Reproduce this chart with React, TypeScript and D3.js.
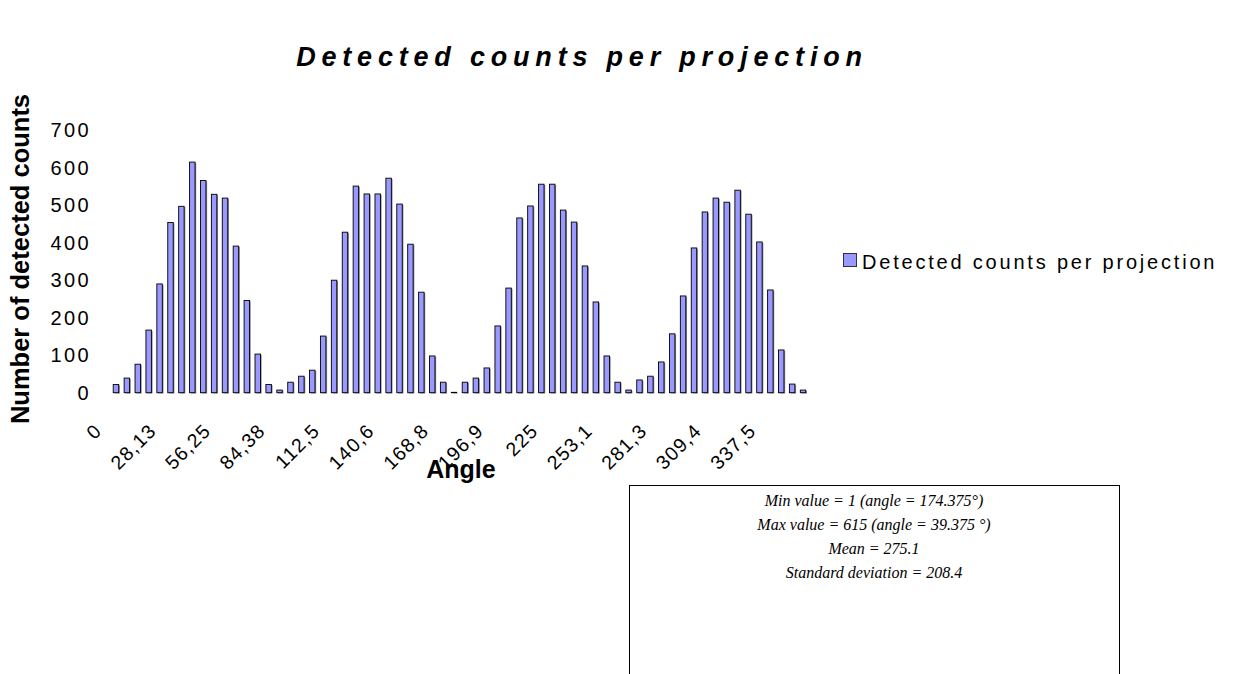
import { useEffect, useRef } from "react";
import * as d3 from "d3";

// counts per projection, 64 projections at 5.625° steps
const COUNTS = [
  22, 39, 76, 167, 290, 454, 497, 615, 566, 529, 519, 391, 246, 103, 22, 7,
  28, 44, 60, 151, 300, 428, 551, 530, 530, 572, 503, 396, 268, 98, 28, 1,
  28, 39, 66, 178, 279, 466, 498, 556, 556, 487, 455, 338, 242, 98, 28, 7,
  34, 44, 82, 157, 258, 386, 482, 519, 508, 540, 476, 402, 274, 114, 23, 7,
];
// shown under every 5th projection
const TICK_LABELS = [
  "0", "28,13", "56,25", "84,38", "112,5", "140,6", "168,8",
  "196,9", "225", "253,1", "281,3", "309,4", "337,5",
];
const Y_TICKS = [0, 100, 200, 300, 400, 500, 600, 700];
const STATS = [
  "Min value = 1 (angle = 174.375°)",
  "Max value = 615 (angle = 39.375 °)",
  "Mean = 275.1",
  "Standard deviation = 208.4",
];

const W = 1253;
const H = 674;
const BAR_FILL = "#9999FF";

function buildChart(svgEl: SVGSVGElement) {
  const svg = d3.select(svgEl);
  svg.selectAll("*").remove();

  const x = d3.scaleBand<number>()
    .domain(COUNTS.map((_, i) => i))
    .range([110.5, 808.5])
    .paddingInner(0.5)
    .paddingOuter(0.25);

  const y = d3.scaleLinear().domain([0, 700]).range([392.7, 130.2]);

  // title
  svg.append("text")
    .attr("x", 582).attr("y", 66)
    .attr("text-anchor", "middle")
    .style("font-family", "Liberation Sans, Arial, sans-serif")
    .style("font-size", "27px")
    .style("font-weight", "bold")
    .style("font-style", "italic")
    .style("letter-spacing", "5.8px")
    .text("Detected counts per projection");

  // y axis labels (no axis line)
  svg.append("g")
    .selectAll("text")
    .data(Y_TICKS)
    .join("text")
    .attr("x", 91)
    .attr("y", d => y(d))
    .attr("dy", "0.36em")
    .attr("text-anchor", "end")
    .style("font-family", "Liberation Sans, Arial, sans-serif")
    .style("font-size", "20px")
    .style("letter-spacing", "2.4px")
    .text(d => d);

  svg.append("text")
    .attr("transform", `translate(29,${(92 + 426) / 2}) rotate(-90)`)
    .attr("text-anchor", "middle")
    .style("font-family", "Liberation Sans, Arial, sans-serif")
    .style("font-size", "25.5px")
    .style("font-weight", "bold")
    .text("Number of detected counts");

  // bars: gray drop edge then the bar itself
  const bars = svg.append("g");
  bars.selectAll("rect.shadow")
    .data(COUNTS)
    .join("rect")
    .attr("class", "shadow")
    .attr("x", (_, i) => (x(i) as number) + 1.2)
    .attr("y", d => y(d) + 0.8)
    .attr("width", x.bandwidth())
    .attr("height", d => Math.max(0, y(0) - y(d)))
    .attr("fill", "#8a8a8a");
  bars.selectAll("rect.bar")
    .data(COUNTS)
    .join("rect")
    .attr("class", "bar")
    .attr("x", (_, i) => x(i) as number)
    .attr("y", d => y(d))
    .attr("width", x.bandwidth())
    .attr("height", d => y(0) - y(d))
    .attr("fill", BAR_FILL)
    .attr("stroke", "#000")
    .attr("stroke-width", 0.9);

  // rotated x tick labels at every 5th projection
  svg.append("g")
    .selectAll("text")
    .data(TICK_LABELS)
    .join("text")
    .attr("transform", (_, k) => {
      const cx = (x(k * 5) as number) + x.bandwidth() / 2;
      return `translate(${cx - 13},432) rotate(-45)`;
    })
    .attr("text-anchor", "end")
    .style("font-family", "Liberation Sans, Arial, sans-serif")
    .style("font-size", "19.5px")
    .style("letter-spacing", "1.2px")
    .text(d => d);

  svg.append("text")
    .attr("x", 461).attr("y", 478)
    .attr("text-anchor", "middle")
    .style("font-family", "Liberation Sans, Arial, sans-serif")
    .style("font-size", "25px")
    .style("font-weight", "bold")
    .text("Angle");

  // legend
  svg.append("rect")
    .attr("x", 843.5).attr("y", 253.5)
    .attr("width", 13).attr("height", 13)
    .attr("fill", BAR_FILL)
    .attr("stroke", "#333")
    .attr("stroke-width", 1);
  svg.append("text")
    .attr("x", 862).attr("y", 269)
    .style("font-family", "Liberation Sans, Arial, sans-serif")
    .style("font-size", "20px")
    .style("letter-spacing", "2.8px")
    .text("Detected counts per projection");

  // statistics box
  svg.append("rect")
    .attr("x", 629.5).attr("y", 485.5)
    .attr("width", 490).attr("height", 200)
    .attr("fill", "#fff")
    .attr("stroke", "#000")
    .attr("stroke-width", 1);
  svg.append("g")
    .selectAll("text")
    .data(STATS)
    .join("text")
    .attr("x", 874)
    .attr("y", (_, i) => 506 + i * 24)
    .attr("text-anchor", "middle")
    .style("font-family", "Liberation Serif, serif")
    .style("font-style", "italic")
    .style("font-size", "16px")
    .text(d => d);
}

export default function App() {
  const svgRef = useRef<SVGSVGElement>(null);

  useEffect(() => {
    document.body.style.margin = "0";
    if (svgRef.current) buildChart(svgRef.current);
  }, []);

  return (
    <svg
      ref={svgRef}
      width={W}
      height={H}
      style={{ display: "block", background: "#fff" }}
    />
  );
}
